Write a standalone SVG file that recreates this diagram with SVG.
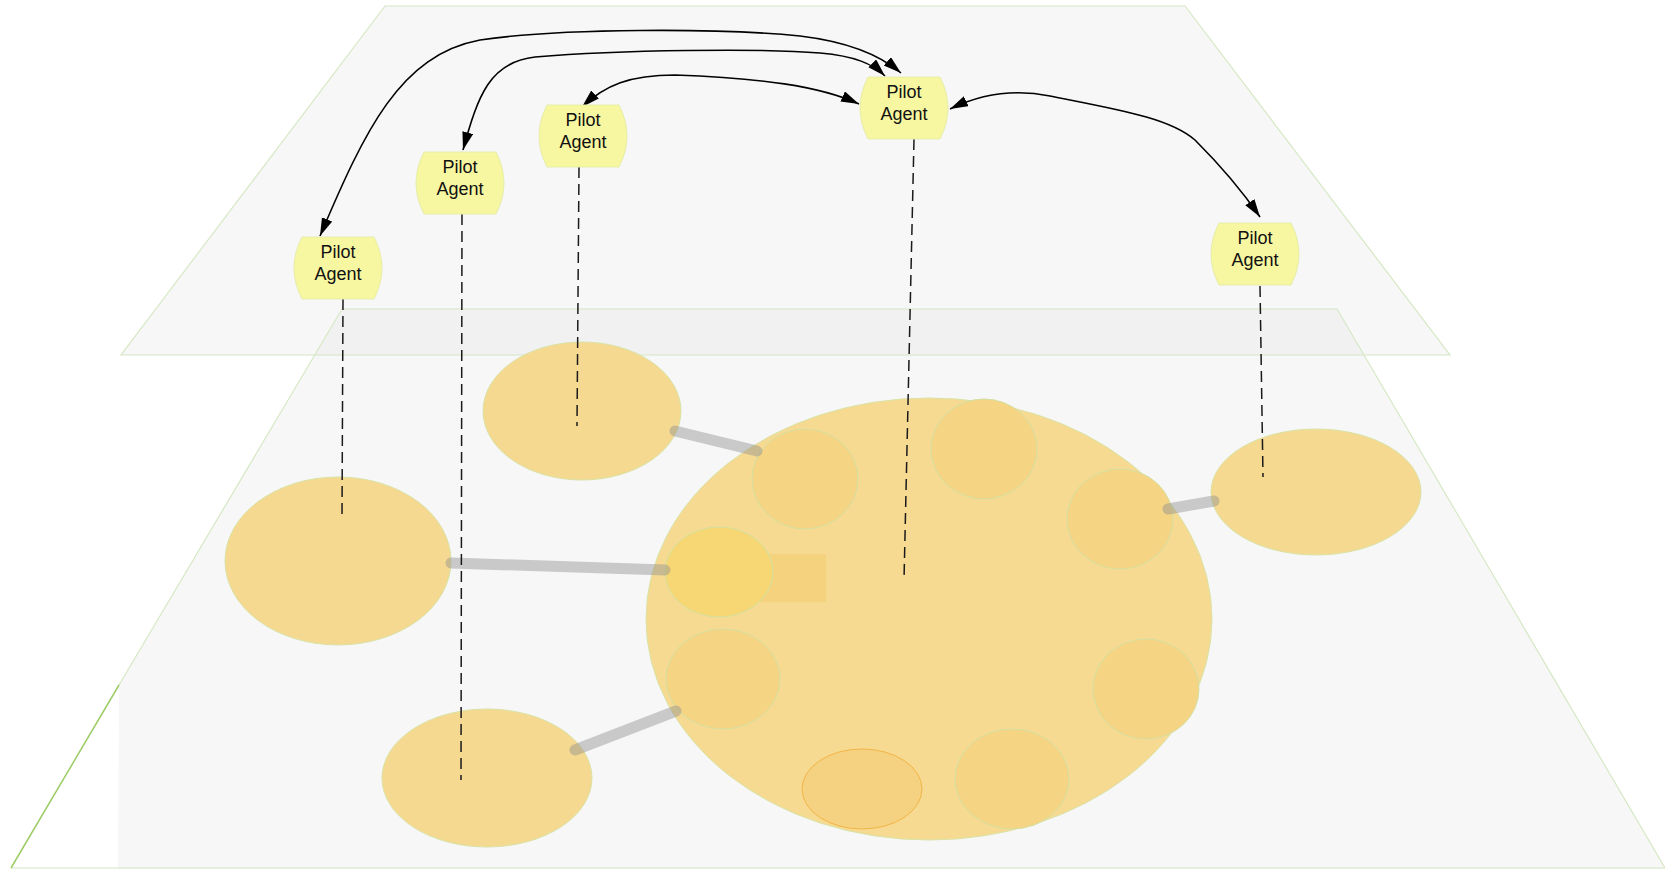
<svg xmlns="http://www.w3.org/2000/svg" width="1665" height="869" viewBox="0 0 1665 869">
<style>
.plane{fill:#f7f7f7;stroke:none}
.edge{fill:none;stroke:#d6e8c4;stroke-width:1.2}
.big{fill:#f7da92;stroke:#d9e3a6;stroke-width:1}
.outer{fill:#f6d990;stroke:#d9e3a6;stroke-width:1}
.inner{fill:#f5d484;stroke:#d4e0a0;stroke-width:1}
.link{stroke:#909090;stroke-opacity:0.45;stroke-width:11;stroke-linecap:round;fill:none}
.agent{fill:#f7f7a1;stroke:#e6eda8;stroke-width:1}
.lbl{font-family:"Liberation Sans",Arial,sans-serif;font-size:18px;fill:#111;text-anchor:middle}
.dash{stroke:#1a1a1a;stroke-width:1.5;stroke-dasharray:11 6;fill:none}
.arc{stroke:#000;stroke-width:1.6;fill:none;marker-start:url(#ah);marker-end:url(#ah)}
</style>
<defs>
<marker id="ah" markerUnits="userSpaceOnUse" markerWidth="20" markerHeight="12" refX="18" refY="5.5" orient="auto-start-reverse">
<path d="M0,0 L18,5.5 L0,11 Z" fill="#000"/>
</marker>
</defs>
<rect width="1665" height="869" fill="#fff"/>
<g id="planes">
<polygon class="plane" points="342,309 1337,309 1665,869 118,869 119,685"/>
<polygon class="plane" points="385,6 1185,6 1450,355 121,355"/>
<polygon points="342,309 1337,309 1364,355 315,355" fill="#f1f1f1"/>
<polyline class="edge" points="119,685 342,309 1337,309 1665,868 11,868"/>
<line x1="119" y1="685" x2="11" y2="868" stroke="#9ccc65" stroke-width="1.5"/>
<polygon class="edge" points="385,6 1185,6 1450,355 121,355"/>
</g>
<g id="cluster">
<ellipse class="big" cx="929" cy="619" rx="283" ry="221"/>
<rect x="740" y="554" width="86" height="48" fill="#f5d27e"/>
<ellipse class="inner" cx="805" cy="479" rx="53" ry="50"/>
<ellipse class="inner" cx="984" cy="449" rx="53" ry="50"/>
<ellipse class="inner" cx="1120" cy="519" rx="53" ry="50"/>
<ellipse cx="719" cy="572" rx="54" ry="45" fill="#f6d773" stroke="#d4e0a0" stroke-width="1"/>
<ellipse class="inner" cx="723" cy="679" rx="57" ry="50"/>
<ellipse class="inner" cx="1146" cy="689" rx="53" ry="50"/>
<ellipse class="inner" cx="1012" cy="779" rx="57" ry="50"/>
<ellipse cx="862" cy="789" rx="60" ry="40" fill="#f5d282" stroke="#f2b446" stroke-width="1"/>
</g>
<g id="site-a"><ellipse class="outer" cx="582" cy="411" rx="99" ry="69"/></g>
<g id="site-b"><ellipse class="outer" cx="338" cy="561" rx="113" ry="84"/></g>
<g id="site-c"><ellipse class="outer" cx="487" cy="778" rx="105" ry="69"/></g>
<g id="site-d"><ellipse class="outer" cx="1316" cy="492" rx="105" ry="63"/></g>
<g id="links">
<line class="link" x1="675" y1="431" x2="757" y2="451"/>
<line class="link" x1="451" y1="563" x2="665" y2="570"/>
<line class="link" x1="575" y1="750" x2="676" y2="711"/>
<line class="link" x1="1168" y1="509" x2="1214" y2="501"/>
</g>
<g id="bindings">
<line class="dash" x1="343" y1="299" x2="342" y2="519"/>
<line class="dash" x1="462" y1="214" x2="461" y2="780"/>
<line class="dash" x1="579" y1="167" x2="577" y2="426"/>
<line class="dash" x1="914" y1="139" x2="904" y2="580"/>
<line class="dash" x1="1260" y1="286" x2="1263" y2="477"/>
</g>
<g id="connectors">
<path class="arc" d="M320,236 C365,130 400,55 480,40 C560,28 720,28 800,36 C850,42 880,55 901,73"/>
<path class="arc" d="M463,150 C478,95 490,62 535,57 C620,50 760,48 820,53 C855,56 873,64 885,76"/>
<path class="arc" d="M582,107 C605,85 630,75 675,75 C760,78 820,86 859,104"/>
<path class="arc" d="M950,109 C985,92 1020,90 1050,96 C1120,110 1170,118 1195,140 C1220,165 1245,195 1260,217"/>
</g>
<g id="agent1">
<path class="agent" d="M302,237 H374 Q390,268 374,299 H302 Q286,268 302,237 Z"/>
<text class="lbl" x="338" y="258">Pilot</text><text class="lbl" x="338" y="280">Agent</text>
</g>
<g id="agent2">
<path class="agent" d="M424,152 H496 Q512,183 496,214 H424 Q408,183 424,152 Z"/>
<text class="lbl" x="460" y="173">Pilot</text><text class="lbl" x="460" y="195">Agent</text>
</g>
<g id="agent3">
<path class="agent" d="M547,105 H619 Q635,136 619,167 H547 Q531,136 547,105 Z"/>
<text class="lbl" x="583" y="126">Pilot</text><text class="lbl" x="583" y="148">Agent</text>
</g>
<g id="agent4">
<path class="agent" d="M868,77 H940 Q956,108 940,139 H868 Q852,108 868,77 Z"/>
<text class="lbl" x="904" y="98">Pilot</text><text class="lbl" x="904" y="120">Agent</text>
</g>
<g id="agent5">
<path class="agent" d="M1219,223 H1291 Q1307,254 1291,285 H1219 Q1203,254 1219,223 Z"/>
<text class="lbl" x="1255" y="244">Pilot</text><text class="lbl" x="1255" y="266">Agent</text>
</g>
</svg>
